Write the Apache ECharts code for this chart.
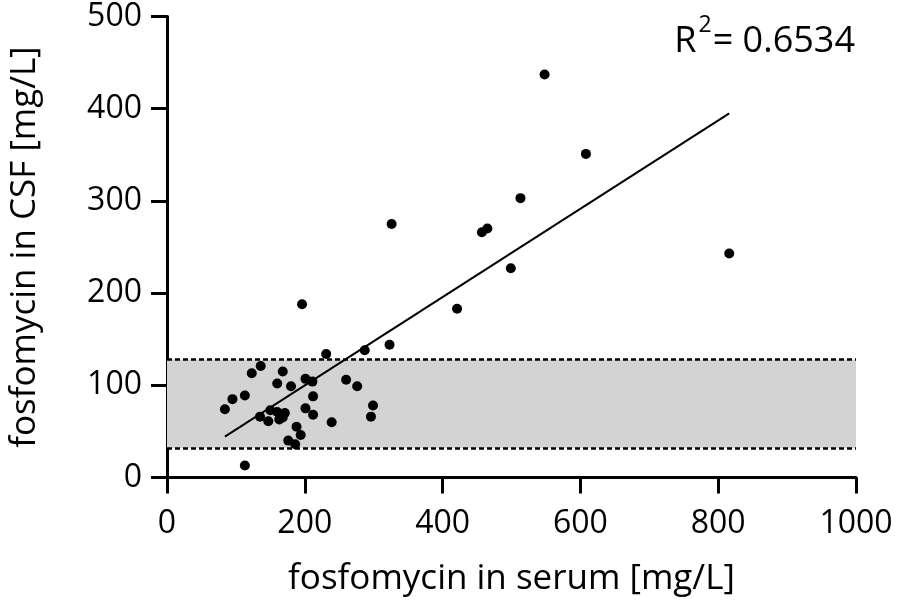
<!DOCTYPE html>
<html>
<head>
<meta charset="utf-8">
<script src="https://cdn.jsdelivr.net/npm/echarts@6/dist/echarts.min.js"></script>
<style>html,body{margin:0;padding:0;background:#fff}#c{width:898px;height:603px}</style>
</head>
<body>
<div id="c"></div>
<script>
var serum = [548, 608, 513, 465, 457, 499, 816, 326, 421, 196, 323, 287, 231,
  260, 276, 239, 299, 296, 113,
  123, 136, 168, 160, 180, 201, 211, 212, 113, 95, 84, 150, 160, 171, 135, 147, 163, 168, 201, 212, 188, 194, 176, 186];
var csf = [437, 351, 303, 270, 266, 227, 243, 275, 183, 188, 144, 138, 134,
  106, 99, 60, 78, 66, 13,
  113, 121, 115, 102, 99, 107, 104, 88, 89, 85, 74, 73, 71, 70, 66, 61, 63, 65, 75, 68, 55, 46, 40, 36];
var xTicks = [0, 200, 400, 600, 800, 1000];
var yTicks = [0, 100, 200, 300, 400, 500];
var bandLow = 32;
var bandHigh = 128;
var fitSlope = 0.479;
var fitIntercept = 4.1;
var r2Text = '0.6534';

var pts = serum.map(function (x, i) { return [x, csf[i]]; });
var xmin = Math.min.apply(null, serum), xmax = Math.max.apply(null, serum);
var fitLine = [[xmin, fitSlope * xmin + fitIntercept], [xmax, fitSlope * xmax + fitIntercept]];

var FONT = 'Open Sans';
var chart = echarts.init(document.getElementById('c'), null, {renderer: 'canvas'});
var axisCommon = {
  axisLine: {show: true, onZero: false, lineStyle: {color: '#000', width: 3}},
  axisTick: {show: true, inside: false, length: 16, lineStyle: {color: '#000', width: 3}},
  splitLine: {show: false},
  axisLabel: {color: '#000', fontSize: 32, fontFamily: FONT, formatter: function (v) { return String(v); }},
  nameTextStyle: {color: '#000', fontSize: 35, fontFamily: FONT},
  nameLocation: 'middle'
};
chart.setOption({
  animation: false,
  grid: {left: 166, right: 42, top: 16.5, bottom: 125.5, containLabel: false},
  xAxis: Object.assign({}, axisCommon, {
    type: 'value', min: xTicks[0], max: xTicks[xTicks.length - 1], interval: 200,
    name: 'fosfomycin in serum [mg/L]', nameGap: 84,
    axisLabel: Object.assign({}, axisCommon.axisLabel, {margin: 30})
  }),
  yAxis: Object.assign({}, axisCommon, {
    type: 'value', min: yTicks[0], max: yTicks[yTicks.length - 1], interval: 100,
    name: 'fosfomycin in CSF [mg/L]', nameGap: 124,
    axisLabel: Object.assign({}, axisCommon.axisLabel, {margin: 25})
  }),
  series: [
    {
      type: 'scatter', data: pts, symbolSize: 10, itemStyle: {color: '#000', opacity: 1}, z: 5,
      markArea: {
        silent: true, itemStyle: {color: '#d3d3d3'},
        data: [[{coord: [0, bandLow]}, {coord: [1000, bandHigh]}]]
      },
      markLine: {
        silent: true, symbol: 'none', label: {show: false},
        lineStyle: {color: '#000', width: 2.5, type: [5, 3]},
        data: [
          [{coord: [0, bandLow]}, {coord: [1000, bandLow]}],
          [{coord: [0, bandHigh]}, {coord: [1000, bandHigh]}]
        ]
      }
    },
    {
      type: 'line', data: fitLine, symbol: 'none', z: 4,
      lineStyle: {color: '#000', width: 2}
    }
  ],
  graphic: [{
    type: 'text', right: 43, top: 14,
    style: {
      text: '{a|R}{s|2}{a|= ' + r2Text + '}',
      rich: {
        a: {fontSize: 36, fontFamily: FONT, fill: '#000', verticalAlign: 'bottom', lineHeight: 46},
        s: {fontSize: 23, fontFamily: FONT, fill: '#000', verticalAlign: 'top', lineHeight: 30, padding: [0, 1, 0, 2]}
      }
    }
  }]
});
</script>
</body>
</html>
